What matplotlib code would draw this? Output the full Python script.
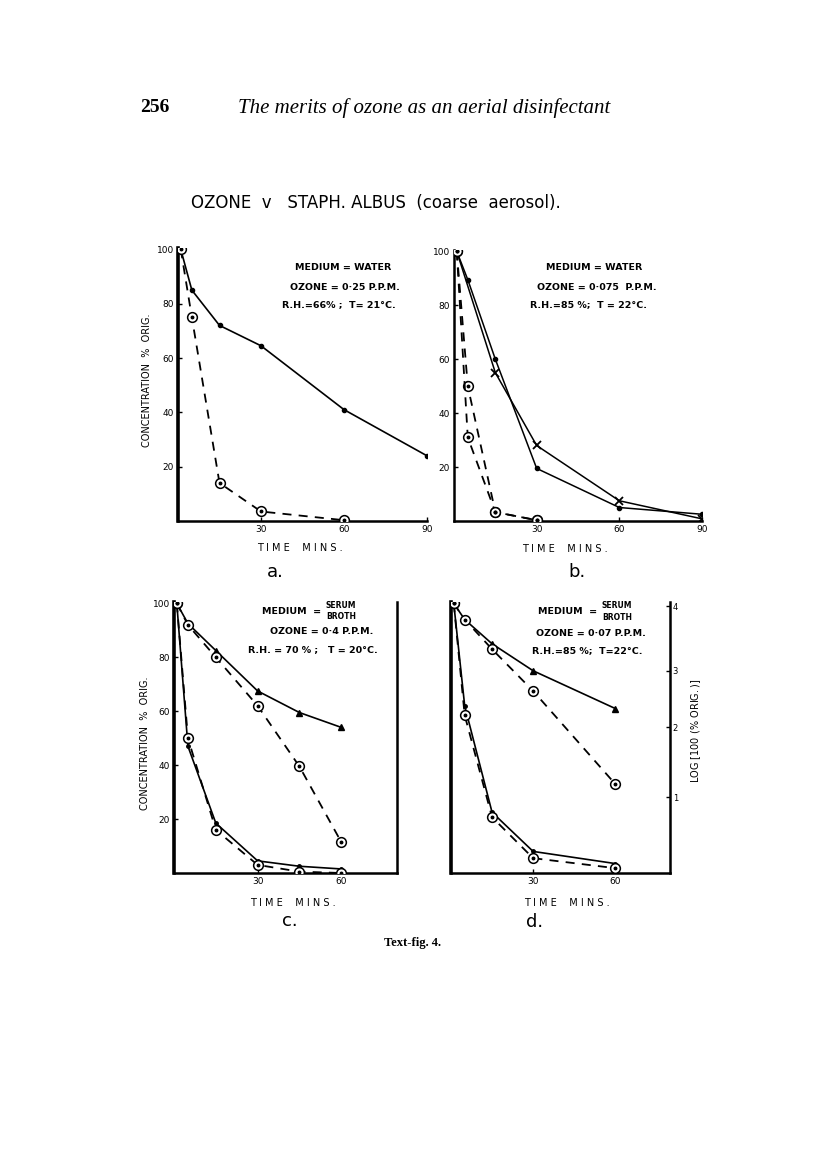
import matplotlib
matplotlib.use('Agg')
import matplotlib.pyplot as plt

W, H = 816, 1171

# panel a: water, ozone 0.25 ppm
a_time = [1, 5, 15, 30, 60, 90]
a_solid = [100, 85, 72, 64.5, 41, 24]
a_dash_time = [1, 5, 15, 30, 60]
a_dash = [100, 75, 14, 3.5, 0.3]

# panel b: water, ozone 0.075 ppm
b_time = [1, 5, 15, 30, 60, 90]
b_dot = [100, 89.5, 60, 19.5, 5, 2.5]
b_cross_time = [1, 15, 30, 60, 90]
b_cross = [100, 55, 28, 7.5, 0.8]
b_dash_time = [1, 5, 15, 30]
b_dash1 = [100, 50, 3.3, 0.3]
b_dash2 = [100, 31, 3.3, 0.3]

# panel c: serum broth, ozone 0.4 ppm
c_time = [1, 5, 15, 30, 45, 60]
c_tri = [100, 92.5, 82.5, 67.5, 59.5, 54]
c_circ_up = [100, 92, 80, 62, 39.5, 11.5]
c_solid_low = [100, 47, 18.5, 4.5, 2.5, 1.5]
c_dash_low = [100, 50, 16, 3, 0.5, 0]

# panel d: serum broth, ozone 0.07 ppm
d_time = [1, 5, 15, 30, 60]
d_tri = [100, 94, 85, 75, 61]
d_circ_up = [100, 94, 83, 67.5, 33]
d_solid_low = [100, 62, 22.5, 8, 3.5]
d_dash_low = [100, 58.5, 20.7, 5.5, 1.8]

y_ticks = [20, 40, 60, 80, 100]
log_ticks = [99, 75, 54, 28]
log_labels = ['4', '3', '2', '1']

SANS = 'DejaVu Sans'
SERIF = 'Liberation Serif'
DASH = (0, (5, 4))


def fx(px):
    return px / W


def fy(py):
    return 1 - py / H


def make_axes(fig, left, right, bottom, top):
    return fig.add_axes([fx(left), fy(bottom), fx(right) - fx(left), (bottom - top) / H])


def circ(ax, x, y, ls):
    # circle with a dot in it
    ax.plot(x, y, color='black', lw=1.3, linestyle=ls, marker='o', ms=7,
            mfc='white', mec='black', mew=1.1, zorder=3)
    ax.plot(x, y, linestyle='none', marker='o', ms=1.8, color='black', zorder=4)


def style(ax, xmax, xt, lw_left=2.2, right=False):
    ax.set_xlim(0, xmax)
    ax.set_ylim(0, 100.5)
    ax.set_xticks(xt)
    ax.set_yticks(y_ticks)
    ax.spines['top'].set_visible(False)
    ax.spines['right'].set_visible(right)
    ax.spines['left'].set_linewidth(lw_left)
    ax.spines['bottom'].set_linewidth(1.8)
    if right:
        ax.spines['right'].set_linewidth(1.8)
    ax.tick_params(direction='in', length=3, width=1, labelsize=6.5, pad=3)
    ax.patch.set_alpha(0)
    for lab in ax.get_xticklabels() + ax.get_yticklabels():
        lab.set_family(SANS)


fig = plt.figure(figsize=(W / 100, H / 100), dpi=100)

fig.text(fx(155), fy(108), '256', family=SERIF, weight='bold', fontsize=14,
         ha='center', va='center')
fig.text(fx(424), fy(108), 'The merits of ozone as an aerial disinfectant',
         family=SERIF, style='italic', fontsize=15, ha='center', va='center')
fig.text(fx(376), fy(203), 'OZONE  v   STAPH. ALBUS  (coarse  aerosol).',
         family=SANS, fontsize=12, ha='center', va='center')

# a
ax = make_axes(fig, 178, 427, 521, 248)
ax.plot(a_time, a_solid, color='black', lw=1.2, marker='o', ms=3)
circ(ax, a_dash_time, a_dash, DASH)
style(ax, 90, [30, 60, 90], lw_left=2.6)

# b
bx = make_axes(fig, 454, 702, 521, 250)
bx.plot(b_time, b_dot, color='black', lw=1.1, marker='o', ms=3)
bx.plot(b_cross_time, b_cross, color='black', lw=1.1, marker='x', ms=6, mew=1.3)
circ(bx, b_dash_time, b_dash1, DASH)
circ(bx, b_dash_time, b_dash2, DASH)
style(bx, 90, [30, 60, 90], lw_left=1.8)

# c
cx = make_axes(fig, 174, 397, 873, 602)
cx.plot(c_time, c_tri, color='black', lw=1.2, marker='^', ms=4)
circ(cx, c_time, c_circ_up, DASH)
cx.plot(c_time, c_solid_low, color='black', lw=1.2, marker='o', ms=2.5)
circ(cx, c_time, c_dash_low, DASH)
style(cx, 80, [30, 60], lw_left=2.6, right=True)

# d
dx = make_axes(fig, 451, 670, 873, 602)
dx.plot(d_time, d_tri, color='black', lw=1.2, marker='^', ms=4)
circ(dx, d_time, d_circ_up, DASH)
dx.plot(d_time, d_solid_low, color='black', lw=1.2, marker='o', ms=2.5)
circ(dx, d_time, d_dash_low, DASH)
style(dx, 80, [30, 60], lw_left=2.6, right=True)
dx.set_yticks([])
dx2 = dx.twinx()
dx2.set_ylim(0, 100.5)
dx2.set_yticks(log_ticks, labels=log_labels)
dx2.tick_params(direction='in', length=3, width=1, labelsize=6, pad=2)
for s in ['top', 'left', 'bottom', 'right']:
    dx2.spines[s].set_visible(False)

# axis titles
lab_kw = dict(family=SANS, fontsize=7, ha='center', va='center')
fig.text(fx(147), fy(380), 'CONCENTRATION  %  ORIG.', rotation=90, **lab_kw)
fig.text(fx(145), fy(743), 'CONCENTRATION  %  ORIG.', rotation=90, **lab_kw)
fig.text(fx(696), fy(731), 'LOG $\\left[100\\ (\\%\\ \\mathrm{ORIG.})\\right]$', rotation=90, **lab_kw)
for x, y in [(300, 548), (565, 549), (293, 903), (567, 903)]:
    fig.text(fx(x), fy(y), 'T I M E    M I N S .', **lab_kw)
for x, y, s in [(275, 572, 'a.'), (577, 572, 'b.'), (290, 921, 'c.'), (535, 922, 'd.')]:
    fig.text(fx(x), fy(y), s, family=SANS, fontsize=13, ha='center', va='center')

# conditions
note = dict(family=SANS, fontsize=6.8, ha='center', va='center', weight='bold')
small = dict(family=SANS, fontsize=5.5, ha='center', va='center', weight='bold')
fig.text(fx(343), fy(268), 'MEDIUM = WATER', **note)
fig.text(fx(345), fy(287), 'OZONE = 0·25 P.P.M.', **note)
fig.text(fx(339), fy(305), 'R.H.=66% ;  T= 21°C.', **note)
fig.text(fx(594), fy(267), 'MEDIUM = WATER', **note)
fig.text(fx(597), fy(287), 'OZONE = 0·075  P.P.M.', **note)
fig.text(fx(589), fy(305), 'R.H.=85 %;  T = 22°C.', **note)

fig.text(fx(292), fy(611), 'MEDIUM  =', **note)
fig.text(fx(341), fy(605), 'SERUM', **small)
fig.text(fx(341), fy(616), 'BROTH', **small)
fig.text(fx(322), fy(632), 'OZONE = 0·4 P.P.M.', **note)
fig.text(fx(313), fy(650), 'R.H. = 70 % ;   T = 20°C.', **note)

fig.text(fx(568), fy(612), 'MEDIUM  =', **note)
fig.text(fx(617), fy(606), 'SERUM', **small)
fig.text(fx(617), fy(617), 'BROTH', **small)
fig.text(fx(591), fy(633), 'OZONE = 0·07 P.P.M.', **note)
fig.text(fx(587), fy(651), 'R.H.=85 %;  T=22°C.', **note)

fig.text(fx(412), fy(943), 'Text-fig. 4.', family=SERIF, weight='bold', fontsize=9,
         ha='center', va='center')

fig.savefig('out.png', dpi=100, facecolor='white')
